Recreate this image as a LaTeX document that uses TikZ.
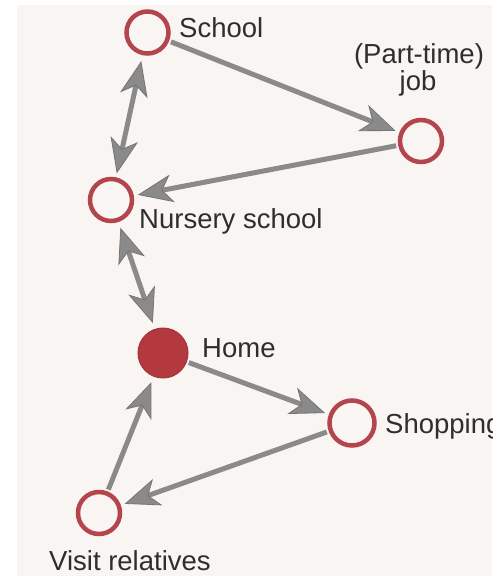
\documentclass[tikz,border=0pt]{standalone}
\usepackage{fontspec}
\setmainfont{Liberation Sans}
\usetikzlibrary{arrows.meta}
\definecolor{paper}{HTML}{F8F5F2}
\definecolor{ringred}{HTML}{B4454C}
\definecolor{homered}{HTML}{B3393F}
\definecolor{arrowgray}{HTML}{8A8A8A}
\definecolor{txt}{HTML}{2E2E2E}
\tikzset{
  place/.style={circle, draw=ringred, line width=4.5pt, fill=paper, minimum size=42pt, inner sep=0pt},
  homeplace/.style={circle, draw=homered!90!black, line width=1pt, fill=homered, minimum size=50pt, inner sep=0pt},
  lbl/.style={inner sep=0pt, text=txt, font=\fontsize{27.5}{32}\selectfont},
  link/.style={draw=arrowgray, line width=5pt, shorten >=4pt, shorten <=2pt},
  head/.tip={Stealth[length=35pt, width=28pt, inset=10pt, line width=0.8pt, fill=arrowgray, color=arrowgray!85!black]}
}
\begin{document}
\begin{tikzpicture}[x=1pt,y=-1pt]
\useasboundingbox (0,0) rectangle (497,576);
\fill[white] (0,0) rectangle (497,576);
\fill[paper] (17,5) rectangle (492,576);
\begin{scope}
\clip (17,5) rectangle (492,576);
% places
\node[place] (school) at (147.5,32.5) {};
\node[place] (job) at (421,141) {};
\node[place] (nursery) at (111,200) {};
\node[homeplace] (home) at (163,353) {};
\node[place, minimum size=45pt] (shop) at (352,423) {};
\node[place] (visit) at (99,513) {};
% connectors
\draw[link, -{head}] (school) -- (job);
\draw[link, -{head}] (job) -- (nursery);
\draw[link, {head}-{head}, shorten <=6pt, shorten >=4pt] (school) -- (nursery);
\draw[link, {head}-{head}, shorten <=6pt, shorten >=6pt] (nursery) -- (home);
\draw[link, -{head}] (home) -- (shop);
\draw[link, -{head}] (shop) -- (visit);
\draw[link, -{head}, shorten >=6pt] (visit) -- (home);
% labels
\node[lbl, anchor=base west] (lschool) at (179,37) {School};
\node[lbl, anchor=base] (ljob1) at (419,63) {(Part-time)};
\node[lbl, anchor=base] (ljob2) at (418,90) {job};
\node[lbl, anchor=base west] (lnursery) at (139,228) {Nursery school};
\node[lbl, anchor=base west] (lhome) at (202,357) {Home};
\node[lbl, anchor=base west] (lshop) at (385,433) {Shopping};
\node[lbl, anchor=base west] (lvisit) at (49,570) {Visit relatives};
\end{scope}
\end{tikzpicture}
\end{document}
